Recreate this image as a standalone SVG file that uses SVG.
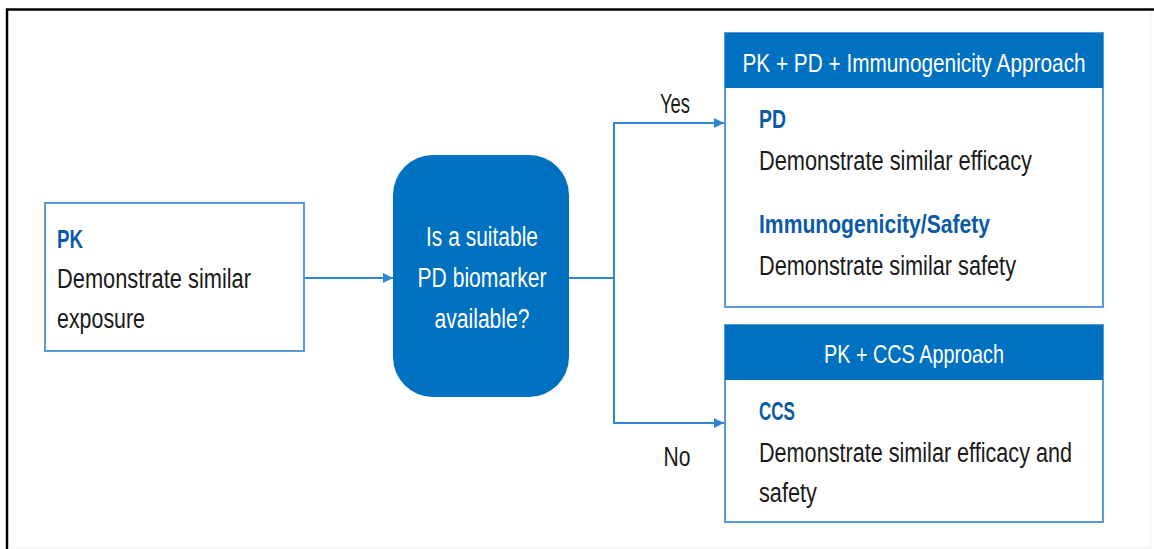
<svg xmlns="http://www.w3.org/2000/svg" width="1154" height="549" viewBox="0 0 1154 549">
  <style>
    text { font-family: "Liberation Sans", Arial, sans-serif; }
    .box { fill: #ffffff; stroke: #5b9bd5; stroke-width: 2; }
    .hdr { fill: #0070c0; }
    .body { font-size: 27px; fill: #1a1a1a; }
    .head { font-size: 26px; fill: #0b5aa6; font-weight: bold; }
    .white { font-size: 27px; fill: #ffffff; text-anchor: middle; }
    .title { font-size: 26px; fill: #ffffff; text-anchor: middle; }
    .lbl { font-size: 27px; fill: #1a1a1a; text-anchor: middle; }
    .conn { fill: none; stroke: #2e86d4; stroke-width: 2; }
  </style>
  <defs>
    <marker id="arrow" viewBox="0 0 10 10" refX="10" refY="5" markerWidth="5" markerHeight="5" orient="auto" markerUnits="strokeWidth">
      <path d="M0,0 L10,5 L0,10 z" fill="#2e86d4"/>
    </marker>
  </defs>

  <!-- frame -->
  <rect x="0" y="0" width="1154" height="549" fill="#ffffff"/>
  <path d="M7,549 V9.5 H1154" fill="none" stroke="#000000" stroke-width="2.5"/>
  <path d="M1151,11 V548 H8" fill="none" stroke="#eeeeee" stroke-width="1"/>

  <!-- connectors -->
  <g id="connectors">
    <path class="conn" d="M305,278 H393" marker-end="url(#arrow)"/>
    <path class="conn" d="M569,278 H614"/>
    <path class="conn" d="M724,123 H614 V423 H724" marker-end="url(#arrow)"/>
    <path class="conn" d="M614,123 H724" marker-end="url(#arrow)"/>
    <text class="lbl" x="675" y="113" textLength="30" lengthAdjust="spacingAndGlyphs">Yes</text>
    <text class="lbl" x="677" y="466" textLength="27" lengthAdjust="spacingAndGlyphs">No</text>
  </g>

  <!-- PK box -->
  <g id="pk">
    <rect class="box" x="45" y="203" width="259" height="148"/>
    <text class="head" x="57" y="248" textLength="26" lengthAdjust="spacingAndGlyphs">PK</text>
    <text class="body" x="57" y="288" textLength="194" lengthAdjust="spacingAndGlyphs">Demonstrate similar</text>
    <text class="body" x="57" y="328" textLength="88" lengthAdjust="spacingAndGlyphs">exposure</text>
  </g>

  <!-- decision -->
  <g id="decision">
    <rect x="393" y="155" width="176" height="242" rx="40" ry="40" fill="#0070c0"/>
    <text class="white" x="482" y="246" textLength="112" lengthAdjust="spacingAndGlyphs">Is a suitable</text>
    <text class="white" x="482" y="287" textLength="129" lengthAdjust="spacingAndGlyphs">PD biomarker</text>
    <text class="white" x="482" y="328" textLength="95" lengthAdjust="spacingAndGlyphs">available?</text>
  </g>

  <!-- PK + PD + Immunogenicity approach -->
  <g id="pd-approach">
    <rect class="box" x="725" y="33" width="378" height="274"/>
    <rect class="hdr" x="725" y="33" width="378" height="55"/>
    <text class="title" transform="translate(914,72) scale(0.8,1)" x="0" y="0">PK + PD + Immunogenicity Approach</text>
    <text class="head" x="759" y="128" textLength="27" lengthAdjust="spacingAndGlyphs">PD</text>
    <text class="body" x="759" y="170" textLength="273" lengthAdjust="spacingAndGlyphs">Demonstrate similar efficacy</text>
    <text class="head" x="759" y="233" textLength="231" lengthAdjust="spacingAndGlyphs">Immunogenicity/Safety</text>
    <text class="body" x="759" y="275" textLength="257" lengthAdjust="spacingAndGlyphs">Demonstrate similar safety</text>
  </g>

  <!-- PK + CCS approach -->
  <g id="ccs-approach">
    <rect class="box" x="725" y="325" width="378" height="197"/>
    <rect class="hdr" x="725" y="325" width="378" height="55"/>
    <text class="title" x="914" y="363" textLength="180" lengthAdjust="spacingAndGlyphs">PK + CCS Approach</text>
    <text class="head" x="759" y="420" textLength="36" lengthAdjust="spacingAndGlyphs">CCS</text>
    <text class="body" x="759" y="462" textLength="313" lengthAdjust="spacingAndGlyphs">Demonstrate similar efficacy and</text>
    <text class="body" x="759" y="502" textLength="58" lengthAdjust="spacingAndGlyphs">safety</text>
  </g>
</svg>
